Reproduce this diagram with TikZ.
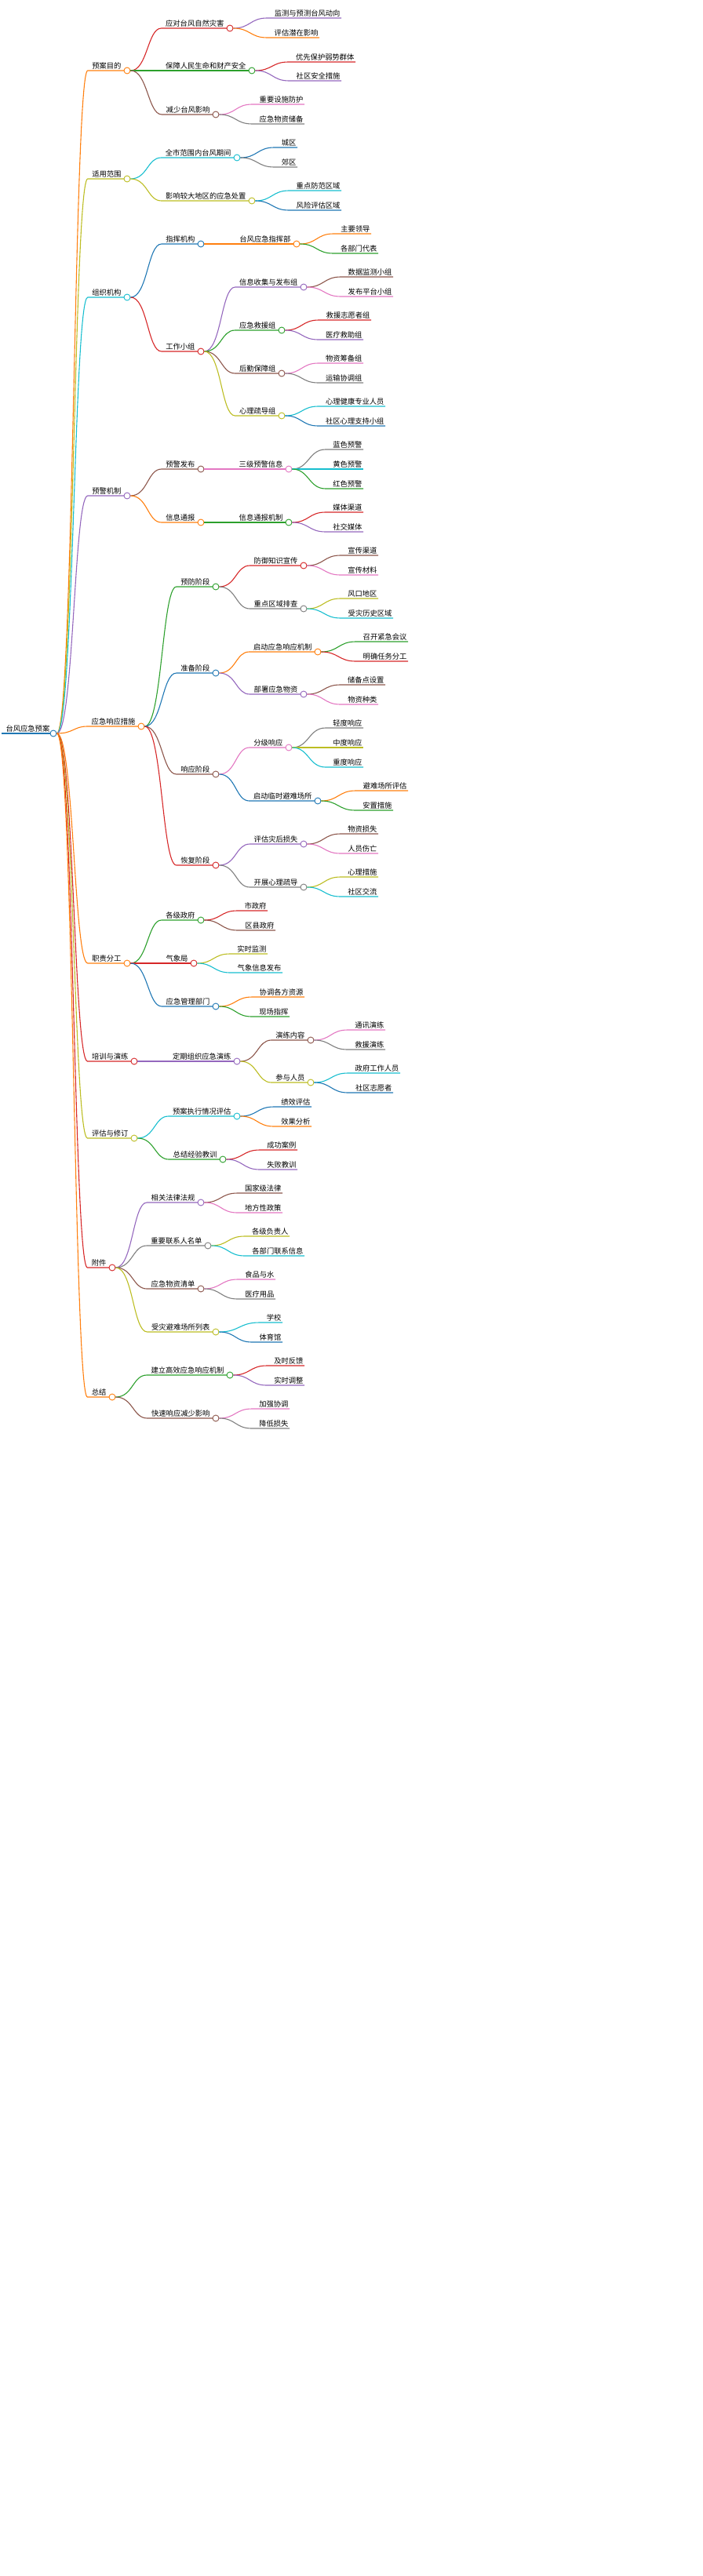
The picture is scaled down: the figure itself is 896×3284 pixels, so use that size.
\documentclass[tikz,border=0pt]{standalone}
\usepackage{fontspec}
\newfontfamily\cjk{Noto Sans CJK SC}
\usetikzlibrary{calc}
\definecolor{mblue}{HTML}{1F77B4}
\definecolor{morange}{HTML}{FF7F0E}
\definecolor{mgreen}{HTML}{2CA02C}
\definecolor{mred}{HTML}{D62728}
\definecolor{mpurple}{HTML}{9467BD}
\definecolor{mbrown}{HTML}{8C564B}
\definecolor{mpink}{HTML}{E377C2}
\definecolor{mgray}{HTML}{7F7F7F}
\definecolor{molive}{HTML}{BCBD22}
\definecolor{mcyan}{HTML}{17BECF}
\tikzset{
    lbl/.style={
        inner sep=1.5pt,
        outer sep=0pt,
        font=\cjk\fontsize{9.3}{11}\selectfont
    },
    dot/.style={
        circle,
        fill=white,
        line width=0.9pt,
        minimum size=8pt,
        inner sep=0pt
    },
    wire/.style={
        line width=1.1pt
    }
}
% branch: name, parent, circle x, y, colour, text
\newcommand{\br}[6]{%
    \node[lbl, anchor=south east] (#1) at (#3-6, #4) {#6};
    \draw[wire, #5] let \p1=(#2c.east), \p2=(#1.south west) in
        (\p1) .. controls ({(\x1+\x2)/2}, \y1) and ({(\x1+\x2)/2}, \y2) .. ($(\p2)+(-4pt,0)$) -- (#3-4, #4);
    \node[dot, draw=#5] (#1c) at (#3, #4) {};
}
% leaf: name, parent, end x, y, colour, text
\newcommand{\lf}[6]{%
    \node[lbl, anchor=south east] (#1) at (#3, #4) {#6};
    \draw[wire, #5] let \p1=(#2c.east), \p2=(#1.south west) in
        (\p1) .. controls ({(\x1+\x2)/2-4}, \y1) and ({(\x1+\x2)/2-4}, \y2) .. ($(\p2)+(-8pt,0)$) -- (#1.south east);
}
\begin{document}
\begin{tikzpicture}[x=1pt, y=-1pt]
    \useasboundingbox (0,0) rectangle (896,3284);

    % root
    \node[lbl, anchor=south west] (r) at (6, 935) {台风应急预案};
    \draw[mblue, line width=2.5pt] (2,935) -- (64,935);
    \node[dot, draw=mblue] (rc) at (68, 935) {};

    % 预案目的
    \br{a}{r}{162}{90}{morange}{预案目的}
    \br{a1}{a}{293}{36}{mred}{应对台风自然灾害}
    \lf{a1x}{a1}{435}{23}{mpurple}{监测与预测台风动向}
    \lf{a1y}{a1}{407}{48}{morange}{评估潜在影响}
    \br{a2}{a}{321}{90}{mgreen}{保障人民生命和财产安全}
    \lf{a2x}{a2}{453}{79}{mred}{优先保护弱势群体}
    \lf{a2y}{a2}{435}{103}{mpurple}{社区安全措施}
    \br{a3}{a}{275}{146}{mbrown}{减少台风影响}
    \lf{a3x}{a3}{388}{133}{mpink}{重要设施防护}
    \lf{a3y}{a3}{388}{158}{mgray}{应急物资储备}

    % 适用范围
    \br{b}{r}{162}{228}{molive}{适用范围}
    \br{b1}{b}{302}{201}{mcyan}{全市范围内台风期间}
    \lf{b1x}{b1}{379}{188}{mblue}{城区}
    \lf{b1y}{b1}{379}{213}{mgray}{郊区}
    \br{b2}{b}{321}{256}{molive}{影响较大地区的应急处置}
    \lf{b2x}{b2}{435}{243}{mcyan}{重点防范区域}
    \lf{b2y}{b2}{435}{268}{mblue}{风险评估区域}

    % 组织机构
    \br{c}{r}{162}{379}{mcyan}{组织机构}
    \br{c1}{c}{256}{311}{mblue}{指挥机构}
    \br{c11}{c1}{378}{311}{morange}{台风应急指挥部}
    \lf{c11x}{c11}{473}{298}{morange}{主要领导}
    \lf{c11y}{c11}{482}{323}{mgreen}{各部门代表}
    \br{c2}{c}{256}{448}{mred}{工作小组}
    \br{c21}{c2}{387}{366}{mpurple}{信息收集与发布组}
    \lf{c21x}{c21}{501}{353}{mbrown}{数据监测小组}
    \lf{c21y}{c21}{501}{378}{mpink}{发布平台小组}
    \br{c22}{c2}{359}{421}{mgreen}{应急救援组}
    \lf{c22x}{c22}{473}{408}{mred}{救援志愿者组}
    \lf{c22y}{c22}{463}{433}{mpurple}{医疗救助组}
    \br{c23}{c2}{359}{476}{mbrown}{后勤保障组}
    \lf{c23x}{c23}{463}{463}{mpink}{物资筹备组}
    \lf{c23y}{c23}{463}{488}{mgray}{运输协调组}
    \br{c24}{c2}{359}{530}{molive}{心理疏导组}
    \lf{c24x}{c24}{491}{518}{mcyan}{心理健康专业人员}
    \lf{c24y}{c24}{491}{543}{mblue}{社区心理支持小组}

    % 预警机制
    \br{d}{r}{162}{632}{mpurple}{预警机制}
    \br{d1}{d}{256}{598}{mbrown}{预警发布}
    \br{d11}{d1}{368}{598}{mpink}{三级预警信息}
    \lf{d11x}{d11}{463}{573}{mgray}{蓝色预警}
    \lf{d11y}{d11}{463}{598}{mcyan}{黄色预警}
    \lf{d11z}{d11}{463}{623}{mgreen}{红色预警}
    \br{d2}{d}{256}{666}{morange}{信息通报}
    \br{d21}{d2}{368}{666}{mgreen}{信息通报机制}
    \lf{d21x}{d21}{463}{653}{mred}{媒体渠道}
    \lf{d21y}{d21}{463}{678}{mpurple}{社交媒体}

    % 应急响应措施
    \br{e}{r}{180}{926}{morange}{应急响应措施}
    \br{e1}{e}{275}{748}{mgreen}{预防阶段}
    \br{e11}{e1}{387}{721}{mred}{防御知识宣传}
    \lf{e11x}{e11}{482}{708}{mbrown}{宣传渠道}
    \lf{e11y}{e11}{482}{733}{mpink}{宣传材料}
    \br{e12}{e1}{387}{776}{mgray}{重点区域排查}
    \lf{e12x}{e12}{482}{763}{molive}{风口地区}
    \lf{e12y}{e12}{501}{788}{mcyan}{受灾历史区域}
    \br{e2}{e}{275}{858}{mblue}{准备阶段}
    \br{e21}{e2}{405}{831}{morange}{启动应急响应机制}
    \lf{e21x}{e21}{520}{818}{mgreen}{召开紧急会议}
    \lf{e21y}{e21}{520}{843}{mred}{明确任务分工}
    \br{e22}{e2}{387}{885}{mpurple}{部署应急物资}
    \lf{e22x}{e22}{491}{873}{mbrown}{储备点设置}
    \lf{e22y}{e22}{482}{898}{mpink}{物资种类}
    \br{e3}{e}{275}{987}{mbrown}{响应阶段}
    \br{e31}{e3}{368}{953}{mpink}{分级响应}
    \lf{e31x}{e31}{463}{928}{mgray}{轻度响应}
    \lf{e31y}{e31}{463}{953}{molive}{中度响应}
    \lf{e31z}{e31}{463}{978}{mcyan}{重度响应}
    \br{e32}{e3}{405}{1021}{mblue}{启动临时避难场所}
    \lf{e32x}{e32}{520}{1008}{morange}{避难场所评估}
    \lf{e32y}{e32}{501}{1033}{mgreen}{安置措施}
    \br{e4}{e}{275}{1103}{mred}{恢复阶段}
    \br{e41}{e4}{387}{1076}{mpurple}{评估灾后损失}
    \lf{e41x}{e41}{482}{1063}{mbrown}{物资损失}
    \lf{e41y}{e41}{482}{1088}{mpink}{人员伤亡}
    \br{e42}{e4}{387}{1131}{mgray}{开展心理疏导}
    \lf{e42x}{e42}{482}{1118}{molive}{心理措施}
    \lf{e42y}{e42}{482}{1143}{mcyan}{社区交流}

    % 职责分工
    \br{f}{r}{162}{1228}{morange}{职责分工}
    \br{f1}{f}{256}{1173}{mgreen}{各级政府}
    \lf{f1x}{f1}{341}{1161}{mred}{市政府}
    \lf{f1y}{f1}{351}{1186}{mbrown}{区县政府}
    \br{f2}{f}{247}{1228}{mred}{气象局}
    \lf{f2x}{f2}{341}{1216}{molive}{实时监测}
    \lf{f2y}{f2}{360}{1240}{mcyan}{气象信息发布}
    \br{f3}{f}{275}{1283}{mblue}{应急管理部门}
    \lf{f3x}{f3}{388}{1271}{morange}{协调各方资源}
    \lf{f3y}{f3}{369}{1296}{mgreen}{现场指挥}

    % 培训与演练
    \br{g}{r}{171}{1353}{mred}{培训与演练}
    \br{g1}{g}{302}{1353}{mpurple}{定期组织应急演练}
    \br{g11}{g1}{396}{1326}{mbrown}{演练内容}
    \lf{g11x}{g11}{491}{1313}{mpink}{通讯演练}
    \lf{g11y}{g11}{491}{1338}{mgray}{救援演练}
    \br{g12}{g1}{396}{1380}{molive}{参与人员}
    \lf{g12x}{g12}{510}{1368}{mcyan}{政府工作人员}
    \lf{g12y}{g12}{501}{1393}{mblue}{社区志愿者}

    % 评估与修订
    \br{h}{r}{171}{1451}{molive}{评估与修订}
    \br{h1}{h}{302}{1423}{mcyan}{预案执行情况评估}
    \lf{h1x}{h1}{397}{1411}{mblue}{绩效评估}
    \lf{h1y}{h1}{397}{1436}{morange}{效果分析}
    \br{h2}{h}{284}{1478}{mgreen}{总结经验教训}
    \lf{h2x}{h2}{379}{1466}{mred}{成功案例}
    \lf{h2y}{h2}{379}{1491}{mpurple}{失败教训}

    % 附件
    \br{i}{r}{143}{1616}{mred}{附件}
    \br{i1}{i}{256}{1533}{mpurple}{相关法律法规}
    \lf{i1x}{i1}{360}{1521}{mbrown}{国家级法律}
    \lf{i1y}{i1}{360}{1546}{mpink}{地方性政策}
    \br{i2}{i}{265}{1588}{mgray}{重要联系人名单}
    \lf{i2x}{i2}{369}{1576}{molive}{各级负责人}
    \lf{i2y}{i2}{388}{1601}{mcyan}{各部门联系信息}
    \br{i3}{i}{256}{1643}{mbrown}{应急物资清单}
    \lf{i3x}{i3}{351}{1631}{mpink}{食品与水}
    \lf{i3y}{i3}{351}{1656}{mgray}{医疗用品}
    \br{i4}{i}{275}{1698}{molive}{受灾避难场所列表}
    \lf{i4x}{i4}{360}{1686}{mcyan}{学校}
    \lf{i4y}{i4}{360}{1711}{mblue}{体育馆}

    % 总结
    \br{j}{r}{143}{1781}{morange}{总结}
    \br{j1}{j}{293}{1753}{mgreen}{建立高效应急响应机制}
    \lf{j1x}{j1}{388}{1741}{mred}{及时反馈}
    \lf{j1y}{j1}{388}{1766}{mpurple}{实时调整}
    \br{j2}{j}{275}{1808}{mbrown}{快速响应减少影响}
    \lf{j2x}{j2}{369}{1796}{mpink}{加强协调}
    \lf{j2y}{j2}{369}{1821}{mgray}{降低损失}
\end{tikzpicture}
\end{document}
